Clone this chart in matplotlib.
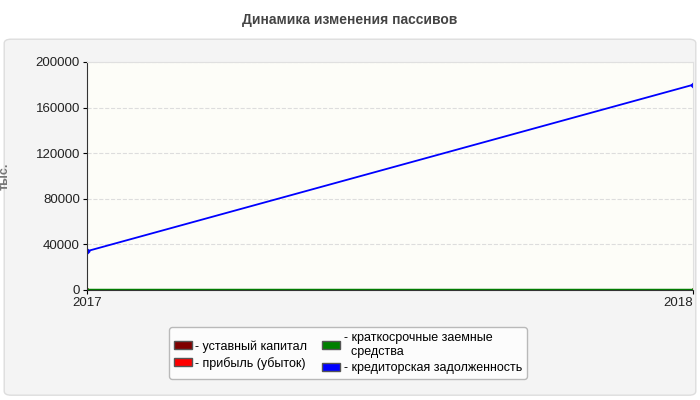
import matplotlib
matplotlib.use("Agg")
import matplotlib.pyplot as plt
from matplotlib.patches import FancyBboxPatch, Patch

years = ["2017", "2018"]
ustav = [0, 0]
pribyl = [0, 0]
kratk = [0, 0]
kredit = [34000, 180000]
yticks = [0, 40000, 80000, 120000, 160000, 200000]

plt.rcParams['font.family'] = ['Liberation Sans', 'DejaVu Sans']
fig = plt.figure(figsize=(7, 4), dpi=100)
fig.patch.set_facecolor('white')
bg = FancyBboxPatch((0.006, 0.012), 0.988, 0.89, boxstyle="round,pad=0,rounding_size=0.01",
                    transform=fig.transFigure, facecolor='#f4f4f4', edgecolor='#dddddd', lw=1,
                    zorder=-10)
fig.patches.append(bg)
fig.text(0.5, 0.95, "Динамика изменения пассивов", ha='center', va='center',
         fontsize=10, fontweight='bold', color='#444444')

ax = fig.add_axes([0.124, 0.275, 0.866, 0.57])
ax.set_facecolor('#fdfdf8')
x = [0, 1]
ax.plot(x, ustav, color='#800000', lw=2, marker='o', ms=2)
ax.plot(x, pribyl, color='#ff0000', lw=2, marker='o', ms=2)
ax.plot(x, kratk, color='#008000', lw=2.5, marker='o', ms=2)
ax.plot(x, kredit, color='#0000ff', lw=1.3, marker='D', ms=2.5)
ax.set_xlim(0, 1)
ax.set_ylim(0, 200000)
ax.set_yticks(yticks)
ax.set_yticklabels([str(v) for v in yticks], fontsize=9.5, color='#222222')
ax.set_xticks(x)
lbls = ax.set_xticklabels(years, fontsize=9.5, color='#222222')
lbls[-1].set_ha('right')
ax.grid(axis='y', color='#dddddd', ls='--', lw=0.8)
for s in ['top', 'right']:
    ax.spines[s].set_color('#e0e0e0')
ax.spines['left'].set_color('#333333')
ax.spines['bottom'].set_color('#333333')
ax.tick_params(length=3, pad=2)
ax.set_ylabel("тыс.", fontsize=9, color='#777777', fontweight='bold', labelpad=18)

handles = [Patch(facecolor='#800000', edgecolor='#555555'),
           Patch(facecolor='#ff0000', edgecolor='#555555'),
           Patch(facecolor='#008000', edgecolor='#555555'),
           Patch(facecolor='#0000ff', edgecolor='#555555')]
labels = ["- уставный капитал", "- прибыль (убыток)",
          "- краткосрочные заемные\n  средства", "- кредиторская задолженность"]
leg = fig.legend(handles, labels, ncol=2, loc='center', bbox_to_anchor=(0.497, 0.117),
                 fontsize=9, frameon=True, handlelength=1.4, handleheight=0.6,
                 handletextpad=0.3, columnspacing=1.2, labelspacing=0.3, fancybox=True)
leg.get_frame().set_edgecolor('#aaaaaa')
leg.get_frame().set_facecolor('white')
fig.savefig("out.png", dpi=100)
